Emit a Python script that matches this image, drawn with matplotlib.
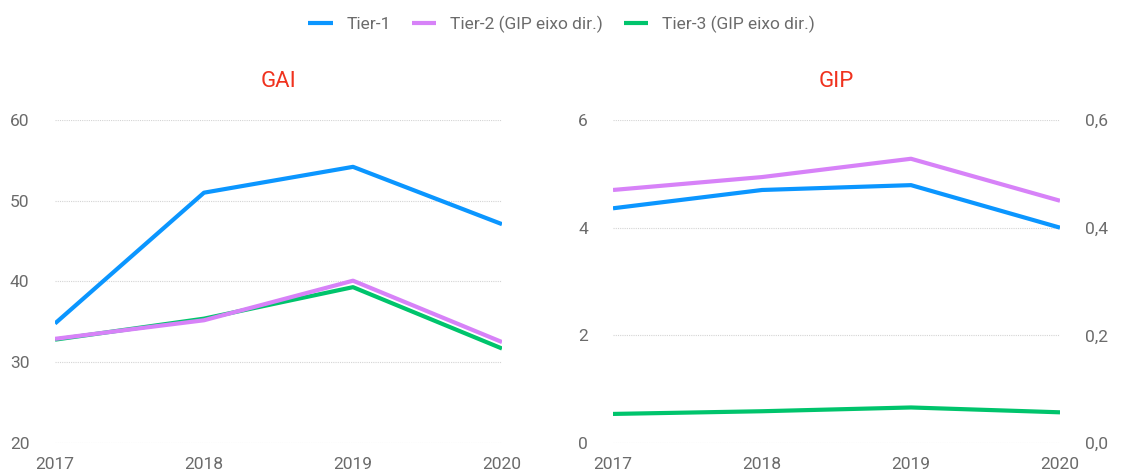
import matplotlib
matplotlib.use("Agg")
import matplotlib.pyplot as plt
from matplotlib.ticker import FuncFormatter

plt.rcParams['font.family'] = ['Roboto', 'DejaVu Sans']

years = ["2017", "2018", "2019", "2020"]

# GAI panel (single axis)
gai_tier1 = [34.8, 51.0, 54.2, 47.1]
gai_tier2 = [32.9, 35.2, 40.1, 32.5]
gai_tier3 = [32.8, 35.4, 39.3, 31.7]

# GIP panel (Tier-1 left axis, Tier-2/3 right axis)
gip_tier1 = [4.36, 4.70, 4.79, 4.00]
gip_tier2 = [0.470, 0.494, 0.528, 0.450]
gip_tier3 = [0.054, 0.059, 0.066, 0.057]

legend_labels = ["Tier-1", "Tier-2 (GIP eixo dir.)", "Tier-3 (GIP eixo dir.)"]
titles = ["GAI", "GIP"]

c1, c2, c3 = "#0B96FF", "#D782F8", "#00C46C"
text_c = "#6b6b6b"
grid_c = "#d4d4d4"
lw = 3.0

fig = plt.figure(figsize=(11.23, 4.74), dpi=100)
h = 323 / 474
b = 31 / 474
ax1 = fig.add_axes([55 / 1123, b, 447 / 1123, h])
ax2 = fig.add_axes([613 / 1123, b, 447 / 1123, h])
ax2r = ax2.twinx()

x = list(range(len(years)))

l1, = ax1.plot(x, gai_tier1, color=c1, lw=lw, solid_capstyle='butt', zorder=3)
l3, = ax1.plot(x, gai_tier3, color=c3, lw=lw, solid_capstyle='butt', zorder=3)
l2, = ax1.plot(x, gai_tier2, color=c2, lw=lw, solid_capstyle='butt', zorder=4)
ax1.set_ylim(20, 60)
ax1.set_yticks([20, 30, 40, 50, 60])

ax2.plot(x, gip_tier1, color=c1, lw=lw, solid_capstyle='butt', zorder=3)
ax2.set_ylim(0, 6)
ax2.set_yticks([0, 2, 4, 6])
ax2r.plot(x, gip_tier2, color=c2, lw=lw, solid_capstyle='butt')
ax2r.plot(x, gip_tier3, color=c3, lw=lw, solid_capstyle='butt')
ax2r.set_ylim(0, 0.6)
ax2r.set_yticks([0, 0.2, 0.4, 0.6])
ax2r.yaxis.set_major_formatter(FuncFormatter(lambda v, p: f"{v:.1f}".replace(".", ",")))

for ax in (ax1, ax2, ax2r):
    for s in ax.spines.values():
        s.set_visible(False)
    ax.tick_params(length=0, labelsize=12.5, colors=text_c)
    ax.set_xlim(0, 3)
    ax.set_xticks(x)
    ax.set_xticklabels(years)

for ax in (ax1, ax2):
    ax.grid(axis='y', color=grid_c, linestyle=(0, (1, 1)), lw=0.8)
    ax.set_axisbelow(True)
    ax.tick_params(axis='x', pad=10)
ax1.tick_params(axis='y', pad=18.5)
ax2.tick_params(axis='y', pad=18)
ax2r.tick_params(axis='y', pad=18)

ax1.set_title(titles[0], color="#F0321E", fontsize=16, pad=24)
ax2.set_title(titles[1], color="#F0321E", fontsize=16, pad=24)

fig.legend([l1, l2, l3], legend_labels, loc='upper center', bbox_to_anchor=(0.5, 1.0),
           ncol=3, frameon=False, fontsize=12.5, labelcolor=text_c,
           handlelength=1.4, handletextpad=0.8, columnspacing=1.2)

fig.savefig("out.png", dpi=100)
